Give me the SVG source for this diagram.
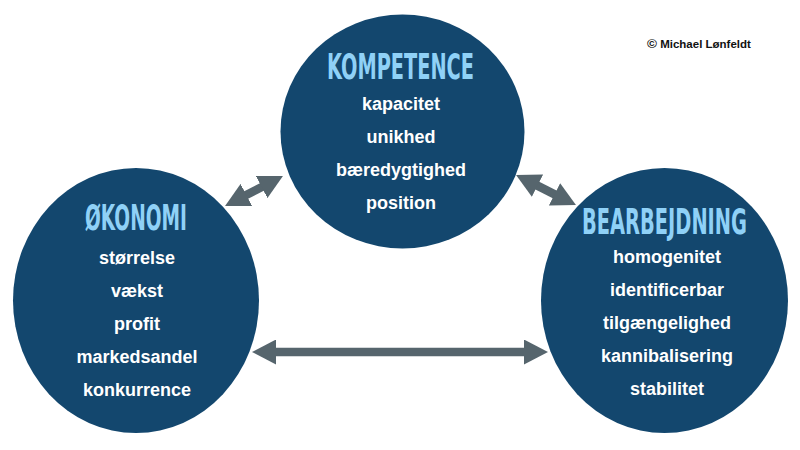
<svg xmlns="http://www.w3.org/2000/svg" width="800" height="450" viewBox="0 0 800 450">
<style>
.node{fill:#13476e}
.title{font-family:"Liberation Sans Narrow","DejaVu Sans Condensed","Liberation Sans",sans-serif;font-weight:bold;font-size:35px;fill:#8fd1f7;text-anchor:middle}
.item{font-family:"Liberation Sans",Arial,sans-serif;font-weight:bold;font-size:18px;fill:#ffffff;text-anchor:middle}
.conn{stroke:#56656d;stroke-width:8.5;fill:none;marker-start:url(#head);marker-end:url(#head)}
.copy{font-family:"Liberation Sans",Arial,sans-serif;font-weight:bold;font-size:11.5px;fill:#111111}
</style>
<defs>
<marker id="head" markerUnits="userSpaceOnUse" markerWidth="24" markerHeight="25" viewBox="0 0 24 25" refX="4" refY="12.5" orient="auto-start-reverse">
<path d="M0,0 L24,12.5 L0,25 z" fill="#56656d"/>
</marker>
</defs>
<rect width="800" height="450" fill="#ffffff"/>
<g id="connectors">
<line class="conn" x1="272" y1="352" x2="528" y2="352"/>
<line class="conn" x1="242.8" y1="196.8" x2="265.2" y2="185.2"/>
<line class="conn" x1="533.9" y1="183.9" x2="558.1" y2="196.1"/>
</g>
<g id="kompetence">
<ellipse class="node" cx="402.5" cy="131.5" rx="122" ry="117"/>
<text class="title" x="400.5" y="79" textLength="147" lengthAdjust="spacingAndGlyphs">KOMPETENCE</text>
<text class="item" x="401" y="110">kapacitet</text>
<text class="item" x="401" y="143">unikhed</text>
<text class="item" x="401" y="176">bæredygtighed</text>
<text class="item" x="401" y="209">position</text>
</g>
<g id="okonomi">
<ellipse class="node" cx="136" cy="300.5" rx="123" ry="132.5"/>
<text class="title" x="136" y="230" textLength="102" lengthAdjust="spacingAndGlyphs">ØKONOMI</text>
<text class="item" x="137" y="264">størrelse</text>
<text class="item" x="137" y="297">vækst</text>
<text class="item" x="137" y="330">profit</text>
<text class="item" x="137" y="363">markedsandel</text>
<text class="item" x="137" y="396">konkurrence</text>
</g>
<g id="bearbejdning">
<ellipse class="node" cx="664.5" cy="300.5" rx="123.5" ry="132.5"/>
<text class="title" x="664.5" y="234" textLength="165" lengthAdjust="spacingAndGlyphs">BEARBEJDNING</text>
<text class="item" x="667" y="263">homogenitet</text>
<text class="item" x="667" y="296">identificerbar</text>
<text class="item" x="667" y="329">tilgængelighed</text>
<text class="item" x="667" y="362">kannibalisering</text>
<text class="item" x="667" y="395">stabilitet</text>
</g>
<text class="copy" x="647" y="48"><tspan font-size="13.5">©</tspan> Michael Lønfeldt</text>
</svg>
